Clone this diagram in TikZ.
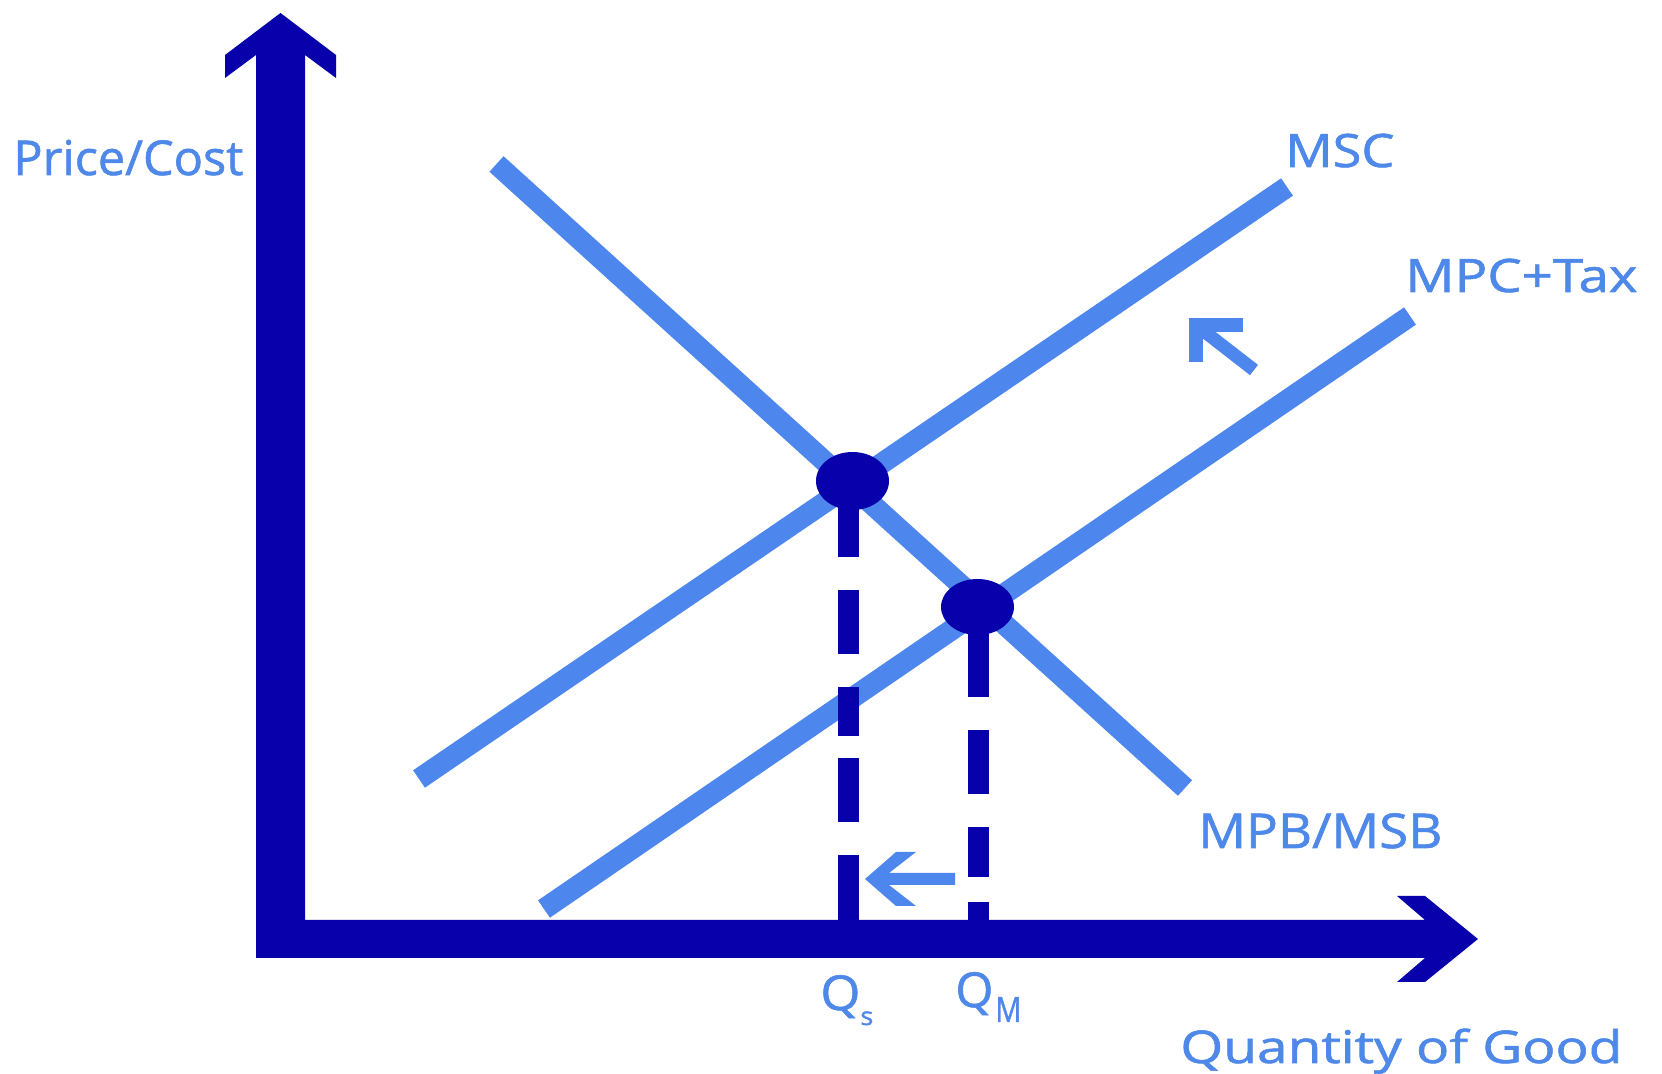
\documentclass[tikz,border=0pt]{standalone}
\usepackage{graphicx}
\usepackage{fontspec}
\setmainfont{Open Sans}
\newfontfamily\lblfont{Open Sans}[FakeBold=1.2]
\definecolor{dkblue}{RGB}{8,0,170}
\definecolor{ltblue}{RGB}{77,135,238}
\definecolor{txtblue}{RGB}{78,136,232}
\begin{document}
\begin{tikzpicture}[x=0.5pt,y=-0.5pt,
  curve/.style={draw=ltblue,line width=10.5pt,line cap=butt},
  dashseg/.style={fill=dkblue},
  dotmark/.style={fill=dkblue},
  smallarrow/.style={draw=ltblue,line cap=butt},
  lbl/.style={text=txtblue,inner sep=0pt,anchor=base west,font=\lblfont\fontsize{23}{28}\selectfont}]
\useasboundingbox[fill=white] (0,0) rectangle (1662,1074);

% curves
\draw[curve] (496.5,164) coordinate (mpbA) -- (1185,788) coordinate (mpbB);
\draw[curve] (419,779) coordinate (mscA) -- (1287,187) coordinate (mscB);
\draw[curve] (544,909) coordinate (mpcA) -- (1410,316) coordinate (mpcB);

% axes
\fill[dkblue] (256,55) -- (225,78) -- (225,55) -- (280.5,13) -- (336,55) -- (336,78) -- (305,55)
  -- (305,920) -- (1425,920) -- (1397,896) -- (1425,896) -- (1478,939) -- (1425,982) -- (1397,982)
  -- (1425,958) -- (256,958) -- cycle;

% dashed drops
\fill[dashseg] (838,481) rectangle (859,557);
\fill[dashseg] (838,590) rectangle (859,654);
\fill[dashseg] (838,687) rectangle (859,736);
\fill[dashseg] (838,758) rectangle (859,822);
\fill[dashseg] (838,855) rectangle (859,921);
\fill[dashseg] (968,607) rectangle (989,697);
\fill[dashseg] (968,730) rectangle (989,794);
\fill[dashseg] (968,827) rectangle (989,877);
\fill[dashseg] (968,902) rectangle (989,921);

% equilibrium dots
\fill[dotmark] (852.5,481) coordinate (eS) ellipse [x radius=18.25pt, y radius=14.5pt];
\fill[dotmark] (977.5,607) coordinate (eM) ellipse [x radius=18.25pt, y radius=14pt];

% shift arrows
\fill[ltblue] (865,879) -- (896,852) -- (916,852) -- (889,873) -- (955,873) -- (955,885)
  -- (889,885) -- (916,906) -- (896,906) -- cycle;
\draw[smallarrow,line width=7pt] (1189,325) -- (1243,325);
\draw[smallarrow,line width=7pt] (1196,318) -- (1196,362);
\draw[smallarrow,line width=6.5pt] (1196,325) -- (1254,370);

% labels
\node[lbl,font=\lblfont\fontsize{24}{28}\selectfont] (pc) at (13,175) {\resizebox{115pt}{\height}{Price/Cost}};
\node[lbl] (msc) at (1285,167) {\resizebox{54.5pt}{\height}{MSC}};
\node[lbl] (mpc) at (1405,292) {\resizebox{116pt}{\height}{MPC+Tax}};
\node[lbl,font=\lblfont\fontsize{24}{28}\selectfont] (mpb) at (1198,848) {\resizebox{122pt}{\height}{MPB/MSB}};
\node[lbl,font=\lblfont\fontsize{22.5}{28}\selectfont] (qty) at (1180,1063) {\resizebox{221pt}{\height}{Quantity of Good}};
\node[lbl,font=\lblfont\fontsize{24}{28}\selectfont] (qs) at (820,1010) {\resizebox{20pt}{\height}{Q}\raisebox{-7.5pt}{\fontsize{12.5}{12}\selectfont\resizebox{6.5pt}{\height}{s}}};
\node[lbl,font=\lblfont\fontsize{24}{28}\selectfont] (qm) at (955,1007) {\resizebox{19pt}{\height}{Q}\hspace{1pt}\raisebox{-7.5pt}{\fontsize{17.5}{17.5}\selectfont\resizebox{13pt}{\height}{M}}};
\end{tikzpicture}
\end{document}
